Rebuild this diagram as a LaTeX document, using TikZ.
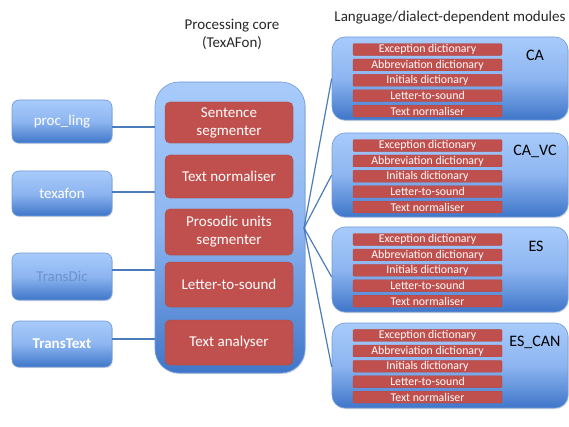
\documentclass[tikz,border=0pt]{standalone}
\usepackage{fontspec}
\setmainfont{Carlito}
\usetikzlibrary{shadows}
\definecolor{btop}{HTML}{A8CBFB}
\definecolor{bbot}{HTML}{3F76C9}
\definecolor{bmid}{HTML}{8DB5F0}
\definecolor{bedge}{HTML}{6F9BDC}
\definecolor{redf}{HTML}{C0504D}
\definecolor{rede}{HTML}{B24744}
\definecolor{linec}{HTML}{4A7CBB}
\definecolor{fadetxt}{HTML}{6D92CC}
\tikzset{
  bluebox/.style={draw=bedge, line width=0.6pt, top color=btop, bottom color=bbot, middle color=bmid,
    drop shadow={shadow xshift=0.8pt, shadow yshift=-1.2pt, opacity=0.25}},
  leftbox/.style={bluebox, rounded corners=7pt, minimum width=100pt, text=white, font=\fontsize{15}{18}\selectfont, inner sep=0pt},
  corebox/.style={bluebox, rounded corners=24pt, minimum width=150pt, minimum height=291pt, inner sep=0pt},
  modbox/.style={bluebox, rounded corners=13pt, minimum width=236pt, inner sep=0pt},
  redbox/.style={draw=rede, line width=0.4pt, fill=redf, rounded corners=5pt, minimum width=128pt, text=white,
    font=\fontsize{15}{18}\selectfont, align=center, inner sep=0pt,
    drop shadow={shadow xshift=0.6pt, shadow yshift=-1pt, opacity=0.25}},
  rowbox/.style={draw=rede, line width=0.3pt, fill=redf, rounded corners=1pt, minimum width=149pt, minimum height=11.8pt,
    text=white, font=\fontsize{11.8}{12}\selectfont, inner sep=0pt},
  modlabel/.style={text=black, font=\fontsize{16}{18}\selectfont, inner sep=0pt},
  title/.style={text=black!85, font=\fontsize{15}{18}\selectfont, align=center, inner sep=0pt},
  conn/.style={draw=linec, line width=1.2pt},
}
\newcommand{\modrows}[2]{%
  \node[rowbox] (#1r1) at (427.5,#2+12.5) {Exception dictionary};
  \node[rowbox] (#1r2) at (427.5,#2+27.9) {Abbreviation dictionary};
  \node[rowbox] (#1r3) at (427.5,#2+43.3) {Initials dictionary};
  \node[rowbox] (#1r4) at (427.5,#2+58.7) {Letter-to-sound};
  \node[rowbox] (#1r5) at (427.5,#2+74.1) {Text normaliser};
}
\begin{document}
\begin{tikzpicture}[x=1pt,y=-1pt]
\useasboundingbox (0,0) rectangle (569,427);

% titles
\node[title] (t1) at (232,34) {Processing core\\(TexAFon)};
\node[title] (t2) at (450,18) {Language/dialect-dependent modules};

% left boxes
\node[leftbox, minimum height=43pt] (pl) at (62,121.5) {proc\_ling};
\node[leftbox, minimum height=45pt] (tx) at (62,193.5) {texafon};
\node[leftbox, minimum height=47pt, text=fadetxt] (td) at (62,276.5) {TransDic};
\node[leftbox, minimum height=46pt, font=\fontsize{15}{18}\selectfont\bfseries] (tt) at (62,344) {TransText};

% core
\node[corebox] (core) at (230,227.5) {};
\node[redbox, minimum height=41pt] (s1) at (229,122.5) {Sentence\\segmenter};
\node[redbox, minimum height=43pt] (s2) at (229,176.5) {Text normaliser};
\node[redbox, minimum height=46pt] (s3) at (229,232) {Prosodic units\\segmenter};
\node[redbox, minimum height=45pt] (s4) at (229,284.5) {Letter-to-sound};
\node[redbox, minimum height=45pt] (s5) at (229,342.5) {Text analyser};

% connectors left
\draw[conn] (pl.east |- 0,127) -- (core.west |- 0,127);
\draw[conn] (tx.east |- 0,192) -- (core.west |- 0,192);
\draw[conn] (td.east |- 0,270) -- (core.west |- 0,270);
\draw[conn] (tt.east |- 0,339) -- (core.west |- 0,339);

% modules
\node[modbox, minimum height=83pt] (mA) at (450,78.5) {};
\node[modbox, minimum height=84pt] (mB) at (450,175) {};
\node[modbox, minimum height=85pt] (mC) at (450,269.5) {};
\node[modbox, minimum height=85pt] (mD) at (450,365.5) {};

\modrows{a}{37}
\modrows{b}{133}
\modrows{c}{227}
\modrows{d}{323}

\node[modlabel] (lA) at (535,55) {CA};
\node[modlabel] (lB) at (535,151) {CA\_VC};
\node[modlabel] (lC) at (536,246) {ES};
\node[modlabel] (lD) at (535,342) {ES\_CAN};

% fan-out
\coordinate (fan) at (304,228);
\draw[conn] (fan) -- (mA.west);
\draw[conn] (fan) -- (mB.west);
\draw[conn] (fan) -- (mC.west |- 0,277);
\draw[conn] (fan) -- (mD.west |- 0,367);
\end{tikzpicture}
\end{document}
